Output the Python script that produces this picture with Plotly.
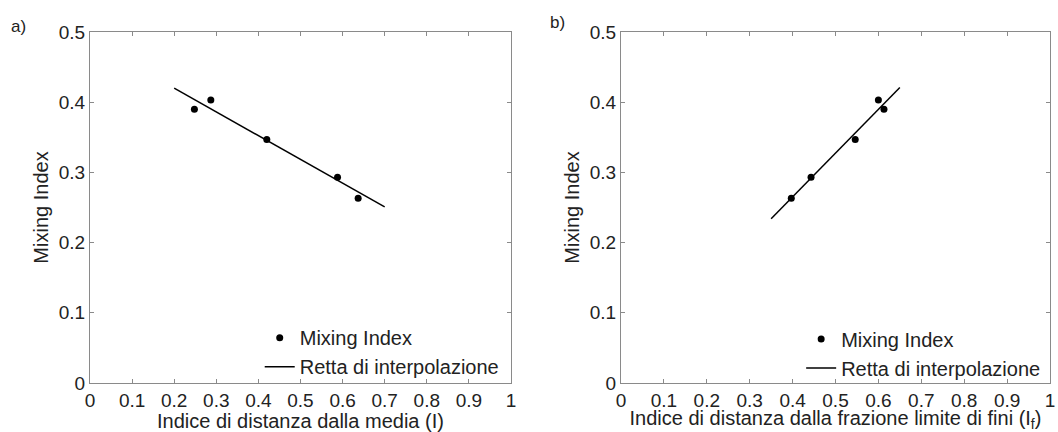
import plotly.graph_objects as go

# ---- data ----
mix_index = [0.390, 0.403, 0.347, 0.293, 0.263]
dist_media = [0.248, 0.287, 0.420, 0.588, 0.637]      # panel a) x
dist_fini = [0.613, 0.600, 0.546, 0.443, 0.397]       # panel b) x

fit_a_x = [0.20, 0.70]
fit_a_y = [0.420, 0.251]
fit_b_x = [0.35, 0.65]
fit_b_y = [0.234, 0.421]

x_ticks = [0, 0.1, 0.2, 0.3, 0.4, 0.5, 0.6, 0.7, 0.8, 0.9, 1]
x_tick_text = ["0", "0.1", "0.2", "0.3", "0.4", "0.5", "0.6", "0.7", "0.8", "0.9", "1"]
y_ticks = [0, 0.1, 0.2, 0.3, 0.4, 0.5]
y_tick_text = ["0", "0.1", "0.2", "0.3", "0.4", "0.5"]

FONT = "Liberation Sans, Arial, sans-serif"
TXT = "#222222"
FRAME = "#8a8a8a"

fig = go.Figure()

fig.add_trace(go.Scatter(x=dist_media, y=mix_index, mode="markers", name="Mixing Index",
                         marker=dict(color="black", size=7), xaxis="x", yaxis="y", legend="legend"))
fig.add_trace(go.Scatter(x=fit_a_x, y=fit_a_y, mode="lines", name="Retta di interpolazione",
                         line=dict(color="black", width=1.5), xaxis="x", yaxis="y", legend="legend"))
fig.add_trace(go.Scatter(x=dist_fini, y=mix_index, mode="markers", name="Mixing Index",
                         marker=dict(color="black", size=7), xaxis="x2", yaxis="y2", legend="legend2"))
fig.add_trace(go.Scatter(x=fit_b_x, y=fit_b_y, mode="lines", name="Retta di interpolazione",
                         line=dict(color="black", width=1.5), xaxis="x2", yaxis="y2", legend="legend2"))

axis_common = dict(showgrid=False, zeroline=False, showline=True, mirror="ticks",
                   linecolor=FRAME, linewidth=1, ticks="inside", ticklen=4, tickcolor=FRAME,
                   tickfont=dict(family=FONT, size=19, color=TXT), automargin=False)

fig.update_layout(
    width=1058, height=432,
    margin=dict(l=90, r=8, t=32, b=49),
    paper_bgcolor="white", plot_bgcolor="white",
    font=dict(family=FONT, color=TXT, size=19),
    xaxis=dict(domain=[0, 0.4385], range=[0, 1], tickvals=x_ticks, ticktext=x_tick_text,
               title=dict(text="Indice di distanza dalla media (I)", font=dict(size=20), standoff=4),
               anchor="y", **axis_common),
    yaxis=dict(domain=[0, 1], range=[0, 0.5], tickvals=y_ticks, ticktext=y_tick_text,
               title=dict(text="Mixing Index", font=dict(size=20), standoff=4),
               anchor="x", **axis_common),
    xaxis2=dict(domain=[0.5531, 1.0], range=[0, 1], tickvals=x_ticks, ticktext=x_tick_text,
                title=dict(text="Indice di distanza dalla frazione limite di fini (I<sub>f</sub>)",
                           font=dict(size=20), standoff=0),
                anchor="y2", **axis_common),
    yaxis2=dict(domain=[0, 1], range=[0, 0.5], tickvals=y_ticks, ticktext=y_tick_text,
                title=dict(text="Mixing Index", font=dict(size=20), standoff=4),
                anchor="x2", **axis_common),
    legend=dict(x=0.432, y=-0.009, xanchor="right", yanchor="bottom", bgcolor="rgba(0,0,0,0)",
                font=dict(family=FONT, size=20, color=TXT), tracegroupgap=0),
    legend2=dict(x=0.996, y=-0.013, xanchor="right", yanchor="bottom", bgcolor="rgba(0,0,0,0)",
                 font=dict(family=FONT, size=20, color=TXT), tracegroupgap=0),
    showlegend=True,
    annotations=[
        dict(text="a)", x=-0.074, y=1.017, xref="paper", yref="paper", showarrow=False,
             xanchor="center", yanchor="middle", font=dict(family=FONT, size=17, color=TXT)),
        dict(text="b)", x=(557 - 90) / 960, y=1.027, xref="paper", yref="paper", showarrow=False,
             xanchor="center", yanchor="middle", font=dict(family=FONT, size=17, color=TXT)),
    ],
)

fig.write_html("out.html")
